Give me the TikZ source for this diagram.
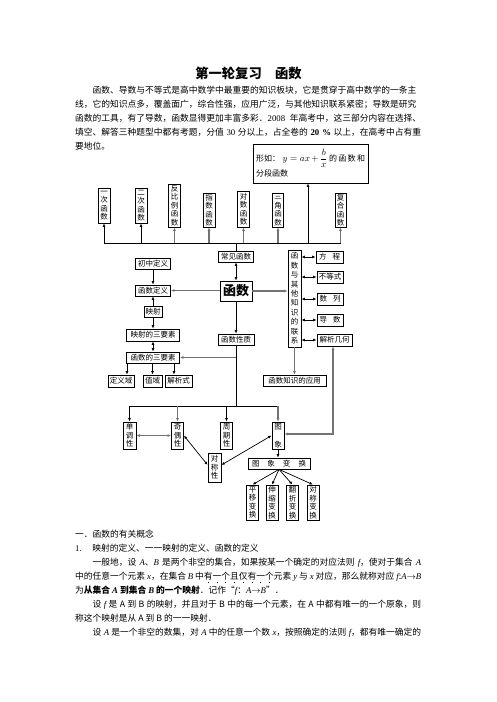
\documentclass[tikz,border=0pt]{standalone}
\usepackage{fontspec}
\setmainfont{Liberation Serif}
\newfontfamily\cjk{Noto Sans CJK SC}
\usetikzlibrary{arrows.meta}
\XeTeXlinebreaklocale "zh"
\XeTeXlinebreakskip=0pt plus 1pt
\newcommand\bodyfont{\cjk\fontsize{8.75}{12}\selectfont}
\newcommand\dfont{\cjk\fontsize{7.5}{8.5}\selectfont}
\newcommand\lt[1]{{\rmfamily #1}}
\newcommand\vi[1]{{\rmfamily\itshape #1}}
\newcommand\zd[1]{\leavevmode\rlap{\makebox[1em]{\raisebox{-0.42em}{\rule{0.9pt}{0.9pt}}}}#1}
\begin{document}
\begin{tikzpicture}[x=1pt,y=-1pt,
  box/.style={draw, line width=0.7pt, inner sep=0pt, font=\dfont, align=center},
  body/.style={anchor=base west, inner sep=0pt, font=\bodyfont},
  ln/.style={line width=0.7pt},
  arr/.style={-{Latex[length=3.5pt,width=2.8pt]}, line width=0.7pt},
  garr/.style={-{Latex[length=3.5pt,width=2.8pt]}, line width=1.1pt, draw=black!55},
  darr/.style={{Latex[length=3.5pt,width=2.8pt]}-{Latex[length=3.5pt,width=2.8pt]}, line width=0.7pt},
  gdarr/.style={{Latex[length=3.5pt,width=2.8pt]}-{Latex[length=3.5pt,width=2.8pt]}, line width=1.1pt, draw=black!55}]
\useasboundingbox (0,0) rectangle (496,702);
\fill[white] (0,0) rectangle (496,702);

% ---------- title and introduction ----------
\node[anchor=base, inner sep=0pt, font=\cjk\bfseries\fontsize{13.3}{16}\selectfont] (title) at (248.5,78) {第一轮复习　函数};
\node[body] (p1) at (75,93.5) {\makebox[346pt][s]{\hspace{2em}函数、导数与不等式是高中数学中最重要的知识板块，它是贯穿于高中数学的一条主}};
\node[body] (p2) at (75,107.5) {\makebox[346pt][s]{线，它的知识点多，覆盖面广，综合性强，应用广泛，与其他知识联系紧密；导数是研究}};
\node[body] (p3) at (75,121.5) {\makebox[346pt][s]{函数的工具，有了导数，函数显得更加丰富多彩．\lt{2008} 年高考中，这三部分内容在选择、}};
\node[body] (p4) at (75,135.5) {\makebox[346pt][s]{填空、解答三种题型中都有考题，分值 \lt{30} 分以上，占全卷的 \lt{\bfseries 20 \%} 以上，在高考中占有重}};
\node[body] (p5) at (75,149.5) {要地位。};

% ---------- top row ----------
\node[box, minimum width=115pt, minimum height=39pt, align=left, text width=109pt, font=\cjk\fontsize{8}{9}\selectfont] (xingru) at (310.5,163.5) {形如：\ {\fontsize{9.5}{10}\selectfont$y=ax+\displaystyle\frac{b}{x}$}\,的\,函\,数\,和\\[1.5pt]分段函数};
\node[box, minimum width=12pt, minimum height=35pt] (yici) at (104,205.5) {一\\次\\函\\数};
\node[box, minimum width=12pt, minimum height=35pt] (erci) at (141,205.5) {二\\次\\函\\数};
\node[box, minimum width=11.5pt, minimum height=43pt] (fanbili) at (174.5,205.5) {反\\比\\例\\函\\数};
\node[box, minimum width=12pt, minimum height=34pt] (zhishu) at (209,210) {指\\数\\函\\数};
\node[box, minimum width=12.5pt, minimum height=36pt] (duishu) at (243.5,209) {对\\数\\函\\数};
\node[box, minimum width=11pt, minimum height=34pt] (sanjiao) at (278,210) {三\\角\\函\\数};
\node[box, minimum width=11pt, minimum height=34pt] (fuhe) at (340.5,210) {复\\合\\函\\数};

\coordinate (bar) at (0,243);
\draw[ln] (yici |- bar) -- (fuhe |- bar);
\draw[arr] (yici |- bar) -- (yici.south);
\draw[arr] (erci |- bar) -- (erci.south);
\draw[garr] (fanbili |- bar) -- (fanbili.south);
\draw[garr] (zhishu |- bar) -- (zhishu.south);
\draw[garr] (duishu |- bar) -- (duishu.south);
\draw[garr] (sanjiao |- bar) -- (sanjiao.south);
\draw[garr] (fuhe |- bar) -- (fuhe.south);
\draw[arr] ([xshift=-2.5pt]xingru.south |- bar) -- ([xshift=-2.5pt]xingru.south);

% ---------- centre ----------
\node[box, minimum width=35pt, minimum height=11pt] (changjian) at (236,256.5) {常见函数};
\node[box, minimum width=32pt, minimum height=20pt, font=\cjk\bfseries\fontsize{13}{13}\selectfont] (hanshu) at (236,291) {函数};
\node[box, minimum width=36pt, minimum height=11pt] (xingzhi) at (236,339.5) {函数性质};
\draw[ln] (changjian |- bar) -- (changjian.north);
\draw[darr] (changjian) -- (hanshu);
\draw[arr] (hanshu) -- (xingzhi);

% ---------- left column ----------
\node[box, minimum width=35pt, minimum height=11pt] (chuzhong) at (153,263.5) {初中定义};
\node[box, minimum width=35pt, minimum height=11pt] (dingyi) at (153,290.5) {函数定义};
\node[box, minimum width=18pt, minimum height=11pt] (yingshe) at (153,311.5) {映射};
\node[box, minimum width=53pt, minimum height=12pt] (ysany) at (153,335) {映射的三要素};
\node[box, minimum width=53pt, minimum height=11pt] (hssany) at (153,357.5) {函数的三要素};
\node[box, minimum width=26pt, minimum height=12pt] (dyy) at (121,381) {定义域};
\node[box, minimum width=19pt, minimum height=12pt] (zy) at (152.5,381) {值域};
\node[box, minimum width=27pt, minimum height=12pt] (jxs) at (178.5,381) {解析式};
\draw[arr] (chuzhong) -- (dingyi);
\draw[garr] (hanshu.west |- dingyi.east) -- (dingyi.east);
\draw[arr] (yingshe) -- (dingyi);
\draw[arr] (yingshe) -- (ysany);
\draw[darr] (ysany) -- (hssany);
\draw[arr] ([xshift=6pt]dyy.north |- hssany.south) -- ([xshift=6pt]dyy.north);
\draw[arr] (zy |- hssany.south) -- (zy.north);
\draw[arr] ([xshift=-4.5pt]jxs.north |- hssany.south) -- ([xshift=-4.5pt]jxs.north);

% ---------- right column ----------
\node[box, minimum width=13pt, minimum height=97pt, font=\cjk\fontsize{7.5}{9.4}\selectfont] (lianxi) at (294.5,298.5) {函\\数\\与\\其\\他\\知\\识\\的\\联\\系};
\node[box, minimum width=27pt, minimum height=12pt] (fangcheng) at (329.5,257) {\makebox[21pt][s]{方\hfill 程}};
\node[box, minimum width=26pt, minimum height=12pt] (budengshi) at (330,277) {不等式};
\node[box, minimum width=26pt, minimum height=12pt] (shulie) at (330,299) {\makebox[21pt][s]{数\hfill 列}};
\node[box, minimum width=26pt, minimum height=12pt] (daoshu) at (330,320) {\makebox[21pt][s]{导\hfill 数}};
\node[box, minimum width=35pt, minimum height=12pt] (jiexi) at (334.5,340) {解析几何};
\node[box, minimum width=63pt, minimum height=11pt] (yingyong) at (294.5,380.5) {函数知识的应用};
\draw[garr] (hanshu.east) -- (hanshu.east -| lianxi.west);
\draw[darr] (lianxi.east |- fangcheng) -- (fangcheng.west);
\draw[darr] (lianxi.east |- budengshi) -- (budengshi.west);
\draw[darr] (lianxi.east |- shulie) -- (shulie.west);
\draw[darr] (lianxi.east |- daoshu) -- (daoshu.west);
\draw[darr] (lianxi.east |- jiexi) -- (jiexi.west);
\draw[garr] (lianxi.south) -- (yingyong.north);

% ---------- properties ----------
\node[box, minimum width=13pt, minimum height=27pt] (dandiao) at (129.5,435.5) {单\\调\\性};
\node[box, minimum width=12pt, minimum height=27pt] (qiou) at (177.5,435.5) {奇\\偶\\性};
\node[box, minimum width=11.5pt, minimum height=27pt] (zhouqi) at (226.5,435.5) {周\\期\\性};
\node[box, minimum width=12pt, minimum height=27pt, font=\cjk\fontsize{7.5}{18}\selectfont] (tuxiang) at (278,435.5) {图\\象};
\node[box, minimum width=13pt, minimum height=29pt] (duicheng) at (214.5,467.5) {对\\称\\性};
\coordinate (br) at (0,406);
\draw[ln] (xingzhi.south) -- (xingzhi |- br);
\draw[garr] (xingzhi |- hssany) -- (hssany.east);
\draw[ln] (dandiao |- br) -- (tuxiang |- br);
\draw[arr] (dandiao |- br) -- (dandiao.north);
\draw[garr] (qiou |- br) -- (qiou.north);
\draw[arr] (zhouqi |- br) -- (zhouqi.north);
\draw[garr] (tuxiang |- br) -- (tuxiang.north);
\draw[gdarr] (dandiao.east) -- (qiou.west);
\draw[darr] (qiou.east) -- (duicheng.160);
\draw[darr] (duicheng.20) -- (tuxiang.west);
\coordinate (rc) at (333,434);
\draw[gdarr] (jiexi.south -| rc) -- (rc) -- (tuxiang.east |- rc);

% ---------- transformations ----------
\node[box, minimum width=62pt, minimum height=11pt] (bhuan) at (279,463.5) {\makebox[54pt][s]{图\hfill 象\hfill 变\hfill 换}};
\node[box, minimum width=11.5pt, minimum height=35pt] (pingyi) at (252.5,502.5) {平\\移\\变\\换};
\node[box, minimum width=12pt, minimum height=35pt] (shensuo) at (272,502.5) {伸\\缩\\变\\换};
\node[box, minimum width=11.5pt, minimum height=35pt] (fanzhe) at (292.5,502.5) {翻\\折\\变\\换};
\node[box, minimum width=12pt, minimum height=35pt] (dcbh) at (313,502.5) {对\\称\\变\\换};
\draw[arr] (tuxiang.south) -- (tuxiang.south |- bhuan.north);
\draw[arr] (bhuan.south) -- (pingyi.north);
\draw[arr] (bhuan.south) -- (shensuo.north);
\draw[arr] (bhuan.south) -- (fanzhe.north);
\draw[arr] (bhuan.south) -- (dcbh.north);

% ---------- text below ----------
\node[body] (b1) at (75,537.5) {一．函数的有关概念};
\node[body] (b2) at (75,551.5) {\lt{1.}\hspace{1.2em}映射的定义、一一映射的定义、函数的定义};
\node[body] (b3) at (75,565.5) {\makebox[346pt][s]{\hspace{2em}一般地，设 \vi{A}、\vi{B} 是两个非空的集合，如果按某一个确定的对应法则 \vi{f}，使对于集合 \vi{A}}};
\node[body] (b4) at (75,579.5) {\makebox[346pt][s]{中的任意一个元素 \vi{x}，在集合 \vi{B} 中\zd{有}\zd{一}\zd{个}\zd{且}\zd{仅}\zd{有}\zd{一}\zd{个}元素 \vi{y} 与 \vi{x} 对应，那么就称对应 \vi{f}:\vi{A}$\to$\vi{B}}};
\node[body] (b5) at (75,593.5) {为\textbf{从集合 \vi{A} 到集合 \vi{B} 的一个映射}．记作“\vi{f}：\vi{A}$\to$\vi{B}”．};
\node[body] (b6) at (75,607.5) {\makebox[346pt][s]{\hspace{2em}设 \vi{f} 是 A 到 B 的映射，并且对于 B 中的每一个元素，在 A 中都有唯一的一个原象，则}};
\node[body] (b7) at (75,621.5) {称这个映射是从 A 到 B 的一一映射．};
\node[body] (b8) at (75,635.5) {\makebox[346pt][s]{\hspace{2em}设 \vi{A} 是一个非空的数集，对 \vi{A} 中的任意一个数 \vi{x}，按照确定的法则 \vi{f}，都有唯一确定的}};
\end{tikzpicture}
\end{document}
